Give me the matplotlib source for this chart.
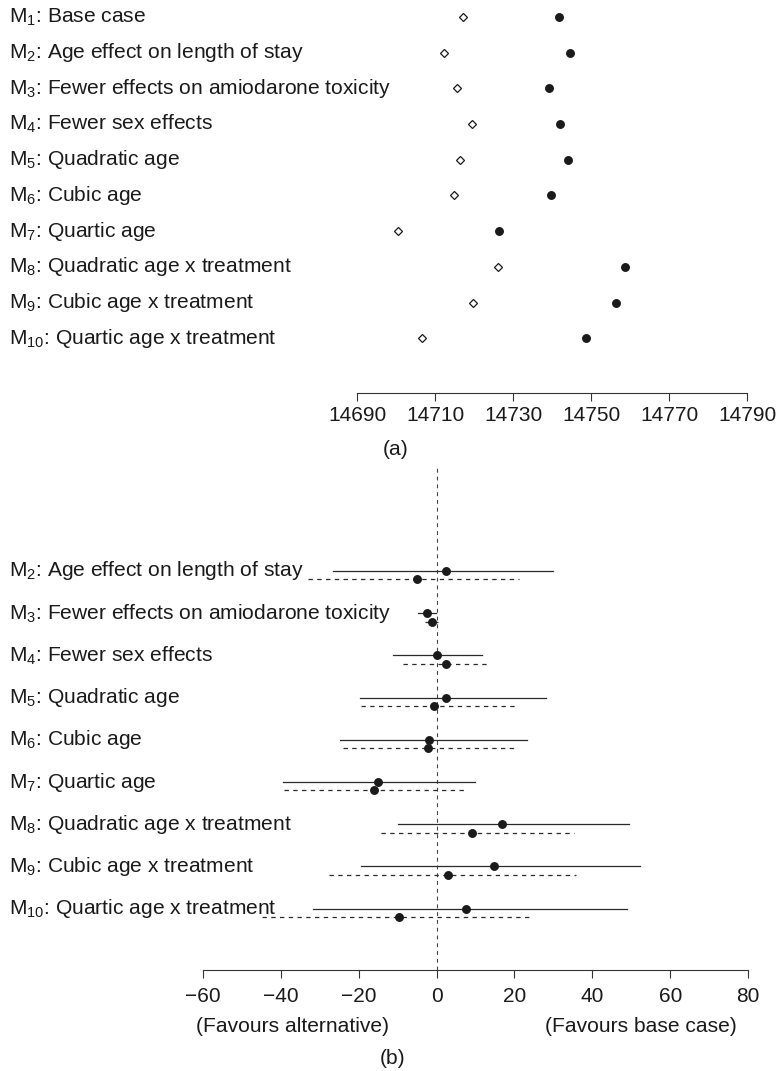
import matplotlib
matplotlib.use("Agg")
import matplotlib.pyplot as plt

plt.rcParams["font.family"] = ["Liberation Sans", "DejaVu Sans"]
plt.rcParams["mathtext.fontset"] = "custom"
plt.rcParams["mathtext.rm"] = "Liberation Sans"

# model labels (M1..M10)
labels = ["Base case", "Age effect on length of stay",
          "Fewer effects on amiodarone toxicity", "Fewer sex effects",
          "Quadratic age", "Cubic age", "Quartic age",
          "Quadratic age x treatment", "Cubic age x treatment",
          "Quartic age x treatment"]

# panel (a): two criteria per model
a_open = [14717.1, 14712.3, 14715.7, 14719.4, 14716.4,
          14714.7, 14700.5, 14726.0, 14719.8, 14706.6]
a_filled = [14741.7, 14744.6, 14739.2, 14741.9, 14744.0,
            14739.7, 14726.4, 14758.6, 14756.3, 14748.7]
a_ticks = [14690, 14710, 14730, 14750, 14770, 14790]

# panel (b): differences vs base case, M2..M10
b_est_solid = [2.5, -2.4, 0.2, 2.4, -1.9, -14.9, 16.8, 14.8, 7.6]
b_lo_solid = [-26.5, -4.8, -11.2, -19.6, -24.7, -39.5, -9.9, -19.5, -31.6]
b_hi_solid = [29.9, -0.2, 11.7, 28.0, 23.2, 9.9, 49.5, 52.2, 48.8]
b_est_dash = [-5.0, -1.2, 2.4, -0.6, -2.1, -16.1, 9.0, 3.0, -9.5]
b_lo_dash = [-32.9, -2.9, -8.7, -19.4, -23.9, -39.1, -14.2, -27.6, -44.8]
b_hi_dash = [21.2, 0.3, 13.7, 20.3, 20.6, 7.7, 35.3, 35.8, 23.8]
b_ticks = [-60, -40, -20, 0, 20, 40, 60, 80]
b_ticklabels = ["\u221260", "\u221240", "\u221220", "0", "20", "40", "60", "80"]

FS = 15.1
TFS = 15.0
INK = "#1a1a1a"
DASH = (0, (3.5, 3.5))


def mlabel(i, text):
    return f"$\\mathregular{{M_{{{i}}}}}$: {text}"


def style_axis(ax, ticks, pad):
    for s in ["top", "right", "left"]:
        ax.spines[s].set_visible(False)
    ax.spines["bottom"].set_bounds(ticks[0], ticks[-1])
    ax.spines["bottom"].set_color("#333333")
    ax.spines["bottom"].set_linewidth(0.8)
    ax.set_xticks(ticks)
    ax.set_yticks([])
    ax.tick_params(axis="x", direction="out", length=5.8, width=0.8,
                   color="#333333", labelsize=TFS, pad=pad, labelcolor=INK)
    ax.patch.set_visible(False)


fig = plt.figure(figsize=(7.77, 10.71), dpi=100)
W, H = 777.0, 1071.0

# ---- panel (a)
ax1 = fig.add_axes([0, 1 - 392.7 / H, 1, 392.7 / H])
rows_a = list(range(1, len(labels) + 1))
ax1.plot(a_open, rows_a, linestyle="none", marker="D", markersize=4.4,
         markerfacecolor="white", markeredgecolor=INK, markeredgewidth=0.9)
ax1.plot(a_filled, rows_a, linestyle="none", marker="o", markersize=5.4,
         color=INK)
ax1.set_xlim(14690 - 357.3 / 3.897, 14690 + (W - 357.3) / 3.897)
ax1.set_ylim(11.524, 0.524)
style_axis(ax1, a_ticks, 4.0)
for i, lab in enumerate(labels):
    ax1.text(9 / W, rows_a[i], mlabel(i + 1, lab), transform=ax1.get_yaxis_transform(),
             ha="left", va="center", fontsize=FS, color=INK)
fig.text(395.7 / W, 1 - 449 / H, "(a)", ha="center", va="center",
         fontsize=FS, color=INK)

# ---- panel (b)
ax2 = fig.add_axes([0, 1 - 969.7 / H, 1, (969.7 - 468) / H])
rows_b = list(range(2, len(labels) + 1))
off = 0.2
ax2.axvline(0, color="#444444", lw=0.8, linestyle=DASH)
for j, r in enumerate(rows_b):
    ax2.plot([b_lo_solid[j], b_hi_solid[j]], [r, r], color="#2a2a2a", lw=0.9)
    ax2.plot([b_lo_dash[j], b_hi_dash[j]], [r + off, r + off], color="#2a2a2a",
             lw=0.9, linestyle=DASH)
ax2.plot(b_est_solid, rows_b, linestyle="none", marker="o", markersize=5.4,
         color=INK)
ax2.plot(b_est_dash, [r + off for r in rows_b], linestyle="none", marker="o",
         markersize=5.4, color=INK)
ax2.set_xlim(-436.5 / 3.896, (W - 436.5) / 3.896)
ax2.set_ylim(11.446, -0.44)
style_axis(ax2, b_ticks, 7.0)
ax2.set_xticklabels(b_ticklabels)
for r in rows_b:
    ax2.text(9 / W, r, mlabel(r, labels[r - 1]), transform=ax2.get_yaxis_transform(),
             ha="left", va="center", fontsize=FS, color=INK)
fig.text(292.3 / W, 1 - 1026 / H, "(Favours alternative)", ha="center",
         va="center", fontsize=FS, color=INK)
fig.text(641 / W, 1 - 1026 / H, "(Favours base case)", ha="center",
         va="center", fontsize=FS, color=INK)
fig.text(392.3 / W, 1 - 1058 / H, "(b)", ha="center", va="center",
         fontsize=FS, color=INK)

fig.savefig("out.png", dpi=100)
